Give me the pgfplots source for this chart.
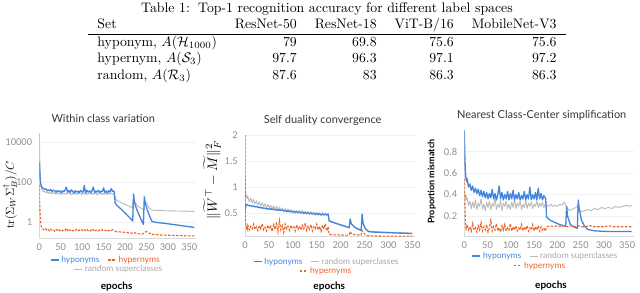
\documentclass[border=0pt]{standalone}
\usepackage{fontspec}
\usepackage{pgfplots}
\pgfplotsset{compat=1.18}
\newfontfamily\lato{Lato}
\newfontfamily\carl{Carlito}
\definecolor{myblue}{RGB}{66,133,222}
\definecolor{myorange}{RGB}{235,100,40}
\definecolor{mygrey}{RGB}{185,185,185}
\definecolor{ticklab}{RGB}{145,145,145}
\definecolor{titlec}{RGB}{55,55,55}
\pgfplotsset{
  panel/.style={scale only axis, anchor=south west,
    axis x line*=bottom, axis y line*=left,
    axis line style={draw=gray!30, line width=0.6pt},
    major tick length=0pt, tick style={draw=none},
    ymajorgrids, grid style={draw=gray!12, line width=0.5pt},
    xtick={0,50,...,350},
    /pgf/number format/assume math mode=true,
    tick label style={font=\carl\fontsize{10.5}{11.5}\selectfont, text=ticklab},
    yticklabel style={inner sep=0pt, anchor=east, xshift=-7pt},
    xticklabel style={inner sep=0pt, anchor=north, yshift=-5pt}},
  blueline/.style={draw=myblue, line width=1.3pt, line join=round},
  greyline/.style={draw=mygrey, line width=0.9pt, line join=round},
  orangeline/.style={draw=myorange, line width=1.1pt, dash pattern=on 2.5pt off 1.5pt},
  legaxis/.style={hide axis, scale only axis, width=640pt, height=292pt,
    at={(0pt,0pt)}, anchor=south west, xmin=0, xmax=640, ymin=0, ymax=292,
    legend columns=-1,
    legend style={draw=none, fill=none, inner sep=0pt, outer sep=0pt, anchor=west,
      font=\lato\fontsize{8.5}{9}\selectfont,
      /tikz/every even column/.append style={column sep=6pt}},
    legend image code/.code={\draw[##1] (0pt,0pt) -- (8pt,0pt);}},
}
\begin{document}
\begin{tikzpicture}
\path[use as bounding box] (0pt,0pt) rectangle (640pt,292pt);

% ---------- table ----------
\node[anchor=north, inner sep=0pt, scale=1.38, font=\fontsize{10}{12}\selectfont] at (327pt,291.5pt) {%
\setlength{\tabcolsep}{6.5pt}\setlength{\arrayrulewidth}{0.58pt}%
\begin{tabular}{lrrrr}
\multicolumn{5}{c}{Table 1:\hspace{0.6em}Top-1 recognition accuracy for different label spaces}\\
Set & ResNet-50 & ResNet-18 & ViT-B/16 & MobileNet-V3\\
\hline
hyponym, $A(\mathcal{H}_{1000})$ & 79 & 69.8 & 75.6 & 75.6\\
hypernym, $A(\mathcal{S}_3)$ & 97.7 & 96.3 & 97.1 & 97.2\\
random, $A(\mathcal{R}_3)$ & 87.6 & 83 & 86.3 & 86.3
\end{tabular}};

% ---------- plot 1 ----------
\begin{axis}[panel, at={(39.3pt,53.7pt)}, width=156.4pt, height=105pt,
  xmin=0, xmax=365, ymode=log, ymin=0.15, ymax=27000,
  ytick={1,100,10000}, yticklabels={1,100,10000}]
\addplot[greyline] coordinates {(0,25000)(1,2000)(2,200)(3,80)(4,55)(5,45)(6,40)(9,32)(12,35)(15,28)(18,33)(21,27)(24,31)(27,25)(30,30)(33,26)(36,29)(39,24)(42,30)(45,25)(48,28)(51,23)(54,29)(57,25)(60,27)(63,24)(66,30)(69,25)(72,28)(75,22)(78,27)(81,24)(84,29)(87,23)(90,27)(93,25)(96,28)(99,22)(102,27)(105,24)(108,29)(111,23)(114,27)(117,25)(120,28)(123,23)(126,27)(129,24)(132,29)(135,22)(138,27)(141,25)(144,28)(147,23)(150,27)(153,24)(156,28)(159,23)(162,27)(165,25)(168,28)(171,24)(174,26)(176,20)(180,12)(190,9.5)(200,7.5)(210,6)(216,5.2)(220,12)(224,9)(230,6)(240,4.5)(244,4.2)(247,11)(252,7)(258,4.5)(265,3.8)(290,3.6)(320,3.5)(350,3.4)(362,3.3)};
\addplot[blueline] coordinates {(0,1000)(1,400)(2,150)(3,90)(4,70)(5,60)(6,55)(9,48)(12,42)(15,45)(18,38)(21,40)(24,35)(27,41)(30,33)(33,38)(36,36)(39,30)(42,37)(45,33)(48,35)(51,29)(54,36)(57,32)(60,38)(63,55)(66,31)(69,36)(72,30)(75,40)(78,33)(81,28)(84,36)(87,31)(90,34)(93,29)(96,37)(99,32)(102,30)(105,65)(108,28)(111,38)(114,31)(117,35)(120,29)(123,36)(126,55)(129,30)(132,35)(135,31)(138,38)(141,29)(144,34)(147,32)(150,50)(153,30)(156,35)(159,28)(162,36)(165,31)(168,46)(171,33)(174,35)(175,30)(177,9)(180,7)(190,4.5)(200,2.8)(210,1.7)(218,1.1)(220,25)(222,10)(226,5)(232,2.5)(240,1.0)(243,0.75)(245,18)(247,9)(252,4)(258,1.8)(263,1.05)(270,0.95)(290,0.85)(310,0.75)(330,0.65)(350,0.57)(362,0.52)};
\addplot[orangeline] coordinates {(0,70)(1,8)(2,2.5)(3,1.2)(4,0.7)(5,0.55)(6,0.5)(9,0.42)(12,0.38)(15,0.45)(18,0.36)(21,0.41)(24,0.35)(27,0.43)(30,0.37)(33,0.4)(36,0.34)(39,0.42)(42,0.38)(45,0.44)(48,0.36)(51,0.4)(54,0.35)(57,0.42)(60,0.38)(63,0.48)(66,0.37)(69,0.43)(72,0.36)(75,0.41)(78,0.35)(81,0.4)(84,0.37)(87,0.42)(90,0.35)(93,0.39)(96,0.36)(99,0.41)(102,0.34)(105,0.4)(108,0.37)(111,0.43)(114,0.36)(117,0.4)(120,0.35)(123,0.45)(126,0.38)(129,0.42)(132,0.36)(135,0.4)(138,0.35)(141,0.39)(144,0.36)(147,0.41)(150,0.35)(153,0.38)(156,0.36)(159,0.4)(162,0.35)(165,0.39)(168,0.37)(171,0.4)(174,0.38)(178,0.33)(190,0.31)(200,0.3)(210,0.28)(218,0.27)(221,0.3)(226,0.26)(240,0.24)(246,0.3)(250,0.33)(255,0.28)(262,0.24)(280,0.22)(310,0.21)(340,0.2)(362,0.2)};
\end{axis}

% ---------- plot 2 ----------
\begin{axis}[panel, at={(245pt,55.3pt)}, width=170.2pt, height=101.7pt,
  xmin=0, xmax=356, ymin=0.05, ymax=2, ytick={0.5,1,1.5,2}]
\addplot[greyline] coordinates {(0,0.95)(1,0.85)(2,0.88)(3,0.8)(4,0.84)(5,0.78)(6,0.82)(9,0.72)(12,0.79)(15,0.7)(18,0.76)(21,0.68)(24,0.74)(27,0.66)(30,0.72)(33,0.64)(36,0.7)(39,0.63)(42,0.68)(45,0.61)(48,0.67)(51,0.6)(54,0.65)(57,0.59)(60,0.64)(63,0.57)(66,0.63)(69,0.56)(72,0.62)(75,0.55)(78,0.6)(81,0.54)(84,0.59)(87,0.53)(90,0.58)(93,0.52)(96,0.57)(99,0.52)(102,0.56)(105,0.5)(108,0.55)(111,0.5)(114,0.56)(117,0.49)(120,0.55)(123,0.48)(126,0.54)(129,0.48)(132,0.53)(135,0.47)(138,0.53)(141,0.47)(144,0.52)(147,0.46)(150,0.52)(153,0.46)(156,0.51)(159,0.45)(162,0.52)(165,0.46)(168,0.51)(171,0.45)(174,0.5)(176,0.36)(185,0.33)(195,0.3)(205,0.27)(215,0.24)(218,0.23)(220,0.38)(222,0.31)(228,0.25)(235,0.21)(243,0.18)(245,0.46)(247,0.31)(252,0.21)(258,0.16)(265,0.15)(290,0.14)(320,0.13)(350,0.12)};
\addplot[blueline] coordinates {(0,0.55)(1,0.6)(2,0.64)(3,0.66)(4,0.67)(5,0.66)(6,0.66)(9,0.64)(12,0.65)(15,0.63)(18,0.64)(21,0.62)(24,0.63)(27,0.61)(30,0.62)(33,0.6)(36,0.61)(39,0.59)(42,0.6)(45,0.58)(48,0.59)(51,0.57)(54,0.59)(57,0.57)(60,0.58)(63,0.56)(66,0.57)(69,0.55)(72,0.57)(75,0.55)(78,0.56)(81,0.54)(84,0.55)(87,0.53)(90,0.55)(93,0.53)(96,0.54)(99,0.52)(102,0.53)(105,0.52)(108,0.53)(111,0.51)(114,0.52)(117,0.51)(120,0.52)(123,0.5)(126,0.51)(129,0.5)(132,0.51)(135,0.49)(138,0.5)(141,0.49)(144,0.5)(147,0.48)(150,0.49)(153,0.48)(156,0.49)(159,0.47)(162,0.48)(165,0.47)(168,0.48)(171,0.47)(174,0.48)(176,0.35)(185,0.32)(195,0.29)(205,0.26)(215,0.23)(218,0.22)(220,0.39)(222,0.3)(228,0.24)(235,0.2)(243,0.17)(245,0.48)(247,0.3)(252,0.2)(258,0.15)(265,0.14)(290,0.13)(320,0.12)(350,0.11)};
\addplot[orangeline] coordinates {(0,2.0)(0.5,1.0)(1,0.3)(2,0.25)(3,0.22)(4,0.26)(5,0.21)(6,0.27)(9,0.18)(12,0.25)(15,0.2)(18,0.29)(21,0.19)(24,0.24)(27,0.17)(30,0.26)(33,0.2)(36,0.3)(39,0.18)(42,0.23)(45,0.16)(48,0.27)(51,0.2)(54,0.25)(57,0.15)(60,0.28)(63,0.19)(66,0.33)(69,0.14)(72,0.36)(75,0.18)(78,0.26)(81,0.13)(84,0.29)(87,0.2)(90,0.25)(93,0.17)(96,0.27)(99,0.21)(102,0.24)(105,0.16)(108,0.28)(111,0.19)(114,0.25)(117,0.18)(120,0.27)(123,0.2)(126,0.31)(129,0.17)(132,0.25)(135,0.19)(138,0.28)(141,0.16)(144,0.24)(147,0.2)(150,0.29)(153,0.18)(156,0.25)(159,0.15)(162,0.27)(165,0.2)(168,0.3)(171,0.16)(174,0.24)(176,0.09)(190,0.085)(210,0.08)(218,0.08)(220,0.15)(223,0.1)(235,0.085)(243,0.08)(245,0.17)(248,0.12)(255,0.07)(270,0.065)(300,0.06)(350,0.06)};
\end{axis}

% ---------- plot 3 ----------
\begin{axis}[panel, at={(464.3pt,55.6pt)}, width=169.3pt, height=106.1pt,
  xmin=0, xmax=364, ymin=0.01, ymax=1.0, ytick={0.2,0.4,0.6,0.8}]
\addplot[greyline] coordinates {(0,0.42)(1,0.38)(2,0.4)(3,0.36)(4,0.39)(5,0.35)(6,0.37)(9,0.3)(12,0.34)(15,0.27)(18,0.33)(21,0.28)(24,0.35)(27,0.26)(30,0.32)(33,0.29)(36,0.36)(39,0.27)(42,0.31)(45,0.25)(48,0.33)(51,0.28)(54,0.34)(57,0.26)(60,0.32)(63,0.29)(66,0.37)(69,0.26)(72,0.31)(75,0.28)(78,0.35)(81,0.25)(84,0.32)(87,0.29)(90,0.34)(93,0.27)(96,0.31)(99,0.26)(102,0.33)(105,0.28)(108,0.36)(111,0.27)(114,0.32)(117,0.29)(120,0.34)(123,0.26)(126,0.31)(129,0.28)(132,0.35)(135,0.27)(138,0.32)(141,0.29)(144,0.33)(147,0.27)(150,0.31)(153,0.29)(156,0.34)(159,0.28)(162,0.32)(165,0.29)(168,0.33)(171,0.28)(174,0.31)(178,0.3)(182,0.29)(186,0.31)(190,0.29)(195,0.3)(200,0.29)(205,0.31)(210,0.3)(215,0.33)(218,0.3)(222,0.27)(226,0.25)(230,0.26)(235,0.27)(240,0.28)(245,0.3)(248,0.25)(252,0.24)(258,0.25)(265,0.26)(272,0.25)(280,0.27)(288,0.26)(295,0.28)(302,0.27)(310,0.28)(318,0.27)(325,0.29)(332,0.28)(340,0.29)(348,0.3)(355,0.29)(360,0.3)};
\addplot[blueline] coordinates {(0,1.0)(1,0.78)(2,0.65)(3,0.58)(4,0.54)(5,0.52)(6,0.55)(9,0.47)(12,0.5)(15,0.44)(18,0.48)(21,0.42)(24,0.46)(27,0.41)(30,0.45)(33,0.39)(36,0.44)(39,0.38)(42,0.43)(45,0.37)(48,0.42)(51,0.36)(54,0.41)(57,0.37)(60,0.45)(63,0.36)(66,0.41)(69,0.35)(72,0.4)(75,0.48)(78,0.36)(81,0.42)(84,0.35)(87,0.4)(90,0.36)(93,0.43)(96,0.35)(99,0.41)(102,0.36)(105,0.44)(108,0.35)(111,0.4)(114,0.36)(117,0.42)(120,0.35)(123,0.39)(126,0.36)(129,0.43)(132,0.35)(135,0.4)(138,0.36)(141,0.47)(144,0.35)(147,0.4)(150,0.36)(153,0.42)(156,0.35)(159,0.46)(162,0.36)(165,0.41)(168,0.35)(171,0.39)(174,0.37)(175,0.36)(177,0.19)(185,0.16)(195,0.14)(205,0.12)(218,0.105)(220,0.29)(222,0.2)(228,0.12)(235,0.1)(243,0.085)(245,0.35)(247,0.27)(252,0.16)(258,0.11)(265,0.075)(280,0.062)(300,0.057)(330,0.055)(360,0.055)};
\addplot[orangeline] coordinates {(0,0.55)(1,0.4)(2,0.2)(3,0.1)(4,0.08)(5,0.1)(6,0.12)(9,0.07)(12,0.1)(15,0.06)(18,0.13)(21,0.07)(24,0.09)(27,0.05)(30,0.11)(33,0.07)(36,0.14)(39,0.06)(42,0.1)(45,0.07)(48,0.12)(51,0.05)(54,0.09)(57,0.16)(60,0.06)(63,0.1)(66,0.07)(69,0.13)(72,0.06)(75,0.09)(78,0.05)(81,0.11)(84,0.07)(87,0.12)(90,0.06)(93,0.09)(96,0.07)(99,0.13)(102,0.06)(105,0.1)(108,0.07)(111,0.11)(114,0.06)(117,0.09)(120,0.07)(123,0.12)(126,0.06)(129,0.1)(132,0.07)(135,0.11)(138,0.06)(141,0.09)(144,0.07)(147,0.12)(150,0.06)(153,0.1)(156,0.07)(159,0.11)(162,0.06)(165,0.1)(168,0.07)(171,0.09)(174,0.06)(178,0.1)(185,0.11)(192,0.1)(200,0.11)(208,0.1)(215,0.11)(222,0.1)(230,0.11)(238,0.1)(245,0.11)(252,0.1)(260,0.1)(270,0.11)(280,0.1)(290,0.1)(300,0.1)(310,0.11)(320,0.1)(330,0.1)(340,0.1)(350,0.1)(360,0.1)};
\end{axis}

% ---------- legends ----------
\begin{axis}[legaxis, legend style={at={(axis cs:50,32)}}]
\addlegendimage{blueline}\addlegendentry{\textcolor{myblue}{hyponyms}}
\addlegendimage{orangeline}\addlegendentry{\textcolor{myorange}{hypernyms}}
\end{axis}
\begin{axis}[legaxis, legend style={at={(axis cs:74,22.7)}}]
\addlegendimage{greyline}\addlegendentry{\textcolor{mygrey!90!black}{random superclasses}}
\end{axis}
\begin{axis}[legaxis, legend style={at={(axis cs:253,30.3)}}]
\addlegendimage{blueline}\addlegendentry{\textcolor{myblue}{hyponyms}}
\addlegendimage{greyline}\addlegendentry{\textcolor{mygrey!90!black}{random superclasses}}
\end{axis}
\begin{axis}[legaxis, legend style={at={(axis cs:299,21)}}]
\addlegendimage{orangeline}\addlegendentry{\textcolor{myorange}{hypernyms}}
\end{axis}
\begin{axis}[legaxis, legend style={at={(axis cs:471.7,36)}}]
\addlegendimage{blueline}\addlegendentry{\textcolor{myblue}{hyponyms}}
\addlegendimage{greyline}\addlegendentry{\textcolor{mygrey!90!black}{random superclasses}}
\end{axis}
\begin{axis}[legaxis, legend style={at={(axis cs:513,26.3)}}]
\addlegendimage{orangeline}\addlegendentry{\textcolor{myorange}{hypernyms}}
\end{axis}

% ---------- titles and labels ----------
\node[font=\lato\fontsize{11}{12}\selectfont, text=titlec] at (103.3pt,173.7pt) {Within class variation};
\node[font=\lato\fontsize{11}{12}\selectfont, text=titlec] at (322.7pt,172pt) {Self duality convergence};
\node[font=\lato\fontsize{11}{12}\selectfont, text=titlec] at (541.7pt,177pt) {Nearest Class-Center simplification};
\node[font=\lato\bfseries\fontsize{10}{11}\selectfont] at (116.7pt,5pt) {epochs};
\node[font=\lato\bfseries\fontsize{10}{11}\selectfont] at (329.3pt,5pt) {epochs};
\node[font=\lato\bfseries\fontsize{10}{11}\selectfont] at (551pt,6pt) {epochs};
\node[rotate=90, scale=1.15, inner sep=0pt, font=\fontsize{10}{12}\selectfont] at (10pt,97pt) {$\mathrm{tr}(\Sigma_W\Sigma_B^{\dagger})/C$};
\node[rotate=90, scale=1.38, inner sep=0pt, font=\fontsize{10}{12}\selectfont] at (212pt,112pt) {$\|\widetilde{W}^{\top}-\widetilde{M}\|_F^2$};
\node[rotate=90, font=\lato\bfseries\fontsize{9}{10}\selectfont] at (431.7pt,110.3pt) {Proportion mismatch};
\end{tikzpicture}
\end{document}
